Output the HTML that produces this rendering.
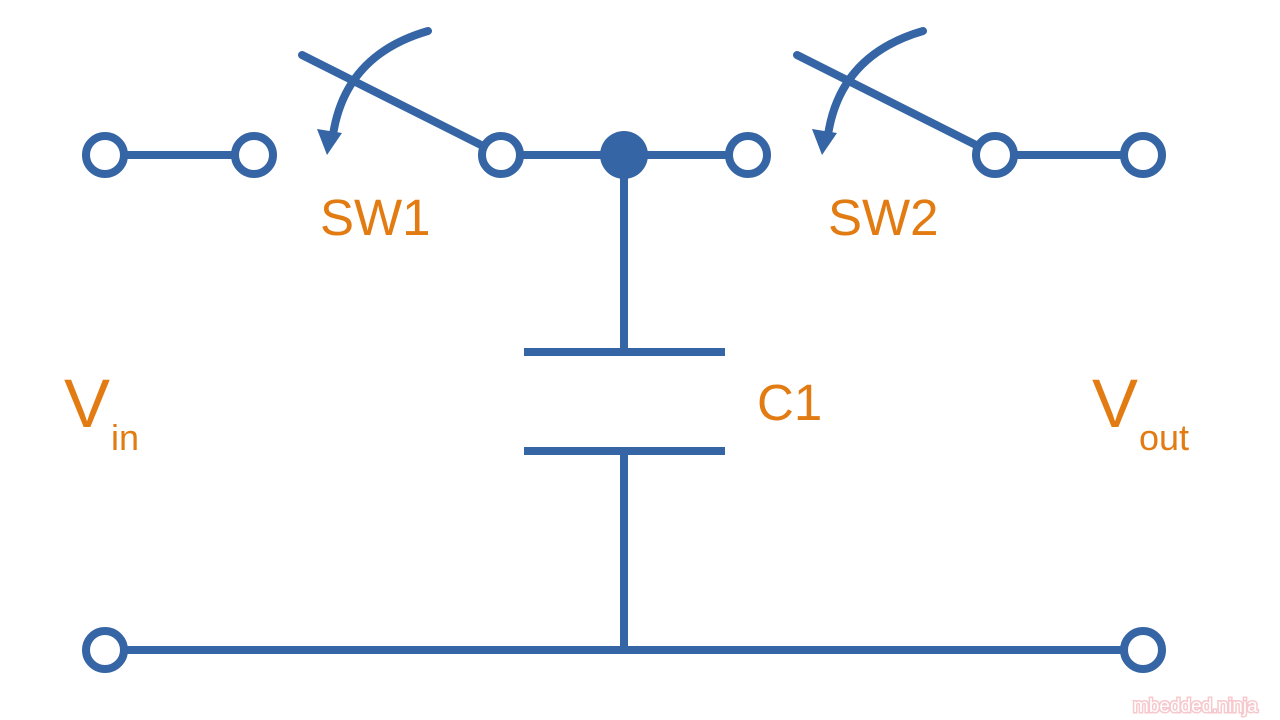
<!DOCTYPE html>
<html><head><style>html,body{margin:0;padding:0;background:#fff;width:1280px;height:720px;overflow:hidden}</style></head>
<body>
<svg width="1280" height="720" xmlns="http://www.w3.org/2000/svg">
<g stroke="#3565a5" stroke-width="8" fill="none" stroke-linecap="round">
<line x1="105" y1="155" x2="254" y2="155"/>
<line x1="501" y1="155" x2="748" y2="155"/>
<line x1="995" y1="155" x2="1143" y2="155"/>
<line x1="302" y1="55" x2="485" y2="147"/>
<line x1="797" y1="55" x2="980" y2="147"/>
<path d="M428 31 Q345 55 333 135"/>
<path d="M923 31 Q840 55 828 135"/>
<line x1="624" y1="155" x2="624" y2="352"/>
<line x1="624" y1="451" x2="624" y2="650"/>
<line x1="524" y1="352" x2="725" y2="352" stroke-linecap="butt"/>
<line x1="524" y1="451" x2="725" y2="451" stroke-linecap="butt"/>
<line x1="105" y1="650" x2="1143" y2="650"/>
</g>
<g fill="#3565a5">
<polygon points="317,129 342,133 327,155"/>
<polygon points="812,129 837,133 822,155"/>
<circle cx="624" cy="155" r="24"/>
</g>
<g stroke="#3565a5" stroke-width="8" fill="#fff">
<circle cx="105" cy="155" r="19"/><circle cx="254" cy="155" r="19"/>
<circle cx="501" cy="155" r="19"/><circle cx="748" cy="155" r="19"/>
<circle cx="995" cy="155" r="19"/><circle cx="1143" cy="155" r="19"/>
<circle cx="105" cy="650" r="19"/><circle cx="1143" cy="650" r="19"/>
</g>
<g fill="#e27b12" font-family="Liberation Sans, sans-serif">
<text x="320" y="235" font-size="51">SW1</text>
<text x="828" y="235" font-size="51">SW2</text>
<text x="757" y="420" font-size="51">C1</text>
<text x="64" y="427" font-size="69">V</text>
<text x="111" y="450" font-size="36">in</text>
<text x="1092" y="427" font-size="69">V</text>
<text x="1139" y="450" font-size="36">out</text>
</g>
<text x="1133" y="712" font-family="Liberation Sans, sans-serif" font-size="19" fill="#fff" stroke="#f7c8cc" stroke-width="3" paint-order="stroke">mbedded.ninja</text>
</svg>
</body></html>
